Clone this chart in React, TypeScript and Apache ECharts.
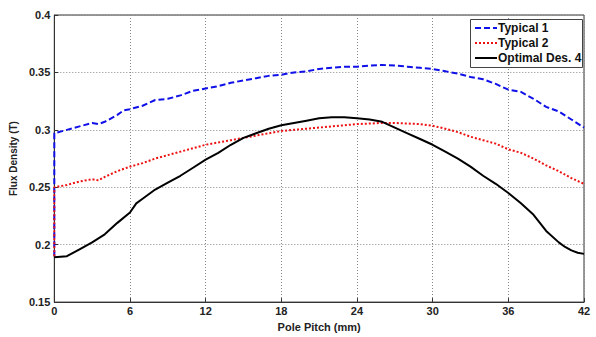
import React, { useEffect, useRef } from "react";
import * as echarts from "echarts";

const xTicks = [0, 6, 12, 18, 24, 30, 36, 42];
const seriesNames = ["Typical 1", "Typical 2", "Optimal Des. 4"];

const typical1X = [0, 0, 1, 2, 3, 3.5, 4, 5, 5.5, 6, 7, 8, 9, 10, 11, 12, 13, 14, 15, 16, 17, 18, 19, 20, 21, 22, 23, 24, 25, 26, 27, 28, 29, 30, 31, 32, 33, 34, 35, 36, 37, 38, 39, 40, 41, 42];
const typical1Y = [0.19, 0.297, 0.3, 0.303, 0.306, 0.305, 0.307, 0.313, 0.317, 0.318, 0.321, 0.326, 0.327, 0.33, 0.334, 0.336, 0.338, 0.341, 0.343, 0.345, 0.347, 0.348, 0.35, 0.351, 0.353, 0.354, 0.355, 0.355, 0.356, 0.3565, 0.356, 0.355, 0.354, 0.353, 0.351, 0.349, 0.346, 0.344, 0.34, 0.335, 0.333, 0.327, 0.32, 0.316, 0.309, 0.302];

const typical2X = [0, 0, 1, 2, 3, 3.5, 4, 5, 6, 7, 8, 9, 10, 11, 12, 13, 14, 15, 16, 17, 18, 19, 20, 21, 22, 23, 24, 25, 26, 27, 28, 29, 30, 31, 32, 33, 34, 35, 36, 37, 38, 39, 40, 41, 42];
const typical2Y = [0.19, 0.25, 0.252, 0.255, 0.257, 0.256, 0.259, 0.264, 0.268, 0.271, 0.275, 0.278, 0.281, 0.284, 0.287, 0.289, 0.291, 0.293, 0.295, 0.297, 0.299, 0.3, 0.301, 0.302, 0.303, 0.304, 0.305, 0.3055, 0.306, 0.306, 0.3055, 0.305, 0.3035, 0.301, 0.298, 0.294, 0.291, 0.288, 0.283, 0.28, 0.275, 0.269, 0.264, 0.258, 0.253];

const optimalX = [0, 1, 2, 3, 4, 5, 6, 6.5, 7, 8, 9, 10, 11, 12, 13, 14, 15, 16, 17, 18, 19, 20, 21, 22, 23, 24, 25, 26, 27, 28, 29, 30, 31, 32, 33, 34, 35, 36, 37, 38, 39, 40, 40.5, 41, 41.5, 42];
const optimalY = [0.189, 0.19, 0.196, 0.202, 0.209, 0.219, 0.228, 0.236, 0.24, 0.248, 0.254, 0.26, 0.267, 0.274, 0.28, 0.287, 0.293, 0.297, 0.301, 0.304, 0.306, 0.308, 0.31, 0.311, 0.311, 0.31, 0.309, 0.307, 0.302, 0.297, 0.292, 0.287, 0.281, 0.275, 0.268, 0.26, 0.253, 0.245, 0.236, 0.226, 0.212, 0.202, 0.198, 0.195, 0.193, 0.192];

const colors = ["#1010e8", "#ee1111", "#000000"];
const dashTypes: any[] = [[6, 3], [2, 2], "solid"];

const pair = (xs: number[], ys: number[]) => xs.map((x, i) => [x, ys[i]]);

export default function App() {
  const ref = useRef<HTMLDivElement>(null);
  useEffect(() => {
    if (!ref.current) return;
    const chart = echarts.init(ref.current, null, { renderer: "svg" });
    const font = "'Liberation Sans', Arial, sans-serif";
    const legendGraphics: any[] = [
      {
        type: "rect",
        shape: { x: 470.5, y: 19.5, width: 112, height: 48 },
        style: { fill: "#fff", stroke: "#444", lineWidth: 1 },
        z: 100,
      },
    ];
    seriesNames.forEach((name, i) => {
      const y = 28 + i * 15;
      legendGraphics.push({
        type: "line",
        shape: { x1: 475, y1: y, x2: 497, y2: y },
        style: { stroke: colors[i], lineWidth: 2, lineDash: dashTypes[i] === "solid" ? null : dashTypes[i] },
        z: 101,
      });
      legendGraphics.push({
        type: "text",
        x: 498,
        y: y,
        style: {
          text: name,
          fill: "#111",
          font: `bold 12px ${font}`,
          verticalAlign: "middle",
          align: "left",
        },
        z: 101,
      });
    });
    chart.setOption({
      animation: false,
      backgroundColor: "#ffffff",
      grid: {
        left: 54,
        right: 12,
        top: 15,
        bottom: 29,
        show: true,
        borderColor: "#333",
        borderWidth: 1,
      },
      graphic: legendGraphics,
      xAxis: {
        type: "value",
        min: 0,
        max: 42,
        interval: 6,
        name: "Pole Pitch (mm)",
        nameLocation: "middle",
        nameGap: 16,
        nameTextStyle: { fontFamily: font, fontWeight: "bold", fontSize: 11, color: "#222" },
        axisLine: { lineStyle: { color: "#333" } },
        axisTick: { inside: true, length: 4, lineStyle: { color: "#333" } },
        axisLabel: { fontFamily: font, fontWeight: "bold", fontSize: 11, color: "#222", margin: 3 },
        splitLine: { show: true, lineStyle: { type: [1, 2], color: "#888" } },
      },
      yAxis: {
        type: "value",
        min: 0.15,
        max: 0.4,
        interval: 0.05,
        name: "Flux Density (T)",
        nameLocation: "middle",
        nameGap: 28,
        nameTextStyle: { fontFamily: font, fontWeight: "bold", fontSize: 10, color: "#222" },
        axisLine: { show: true, lineStyle: { color: "#333" } },
        axisTick: { show: true, inside: true, length: 4, lineStyle: { color: "#333" } },
        axisLabel: {
          fontFamily: font,
          fontWeight: "bold",
          fontSize: 11,
          color: "#222",
          margin: 4,
          formatter: (v: number) => String(parseFloat(v.toFixed(2))),
        },
        splitLine: { show: true, lineStyle: { type: [1, 2], color: "#888" } },
      },
      series: [
        {
          name: seriesNames[0],
          type: "line",
          symbol: "none",
          data: pair(typical1X, typical1Y),
          lineStyle: { color: colors[0], width: 2, type: dashTypes[0] },
          itemStyle: { color: colors[0] },
        },
        {
          name: seriesNames[1],
          type: "line",
          symbol: "none",
          data: pair(typical2X, typical2Y),
          lineStyle: { color: colors[1], width: 2, type: dashTypes[1] },
          itemStyle: { color: colors[1] },
        },
        {
          name: seriesNames[2],
          type: "line",
          symbol: "none",
          data: pair(optimalX, optimalY),
          lineStyle: { color: colors[2], width: 2 },
          itemStyle: { color: colors[2] },
        },
      ],
    });
    return () => chart.dispose();
  }, []);
  return <div ref={ref} style={{ width: 596, height: 337, position: "fixed", left: 0, top: 0 }} />;
}
